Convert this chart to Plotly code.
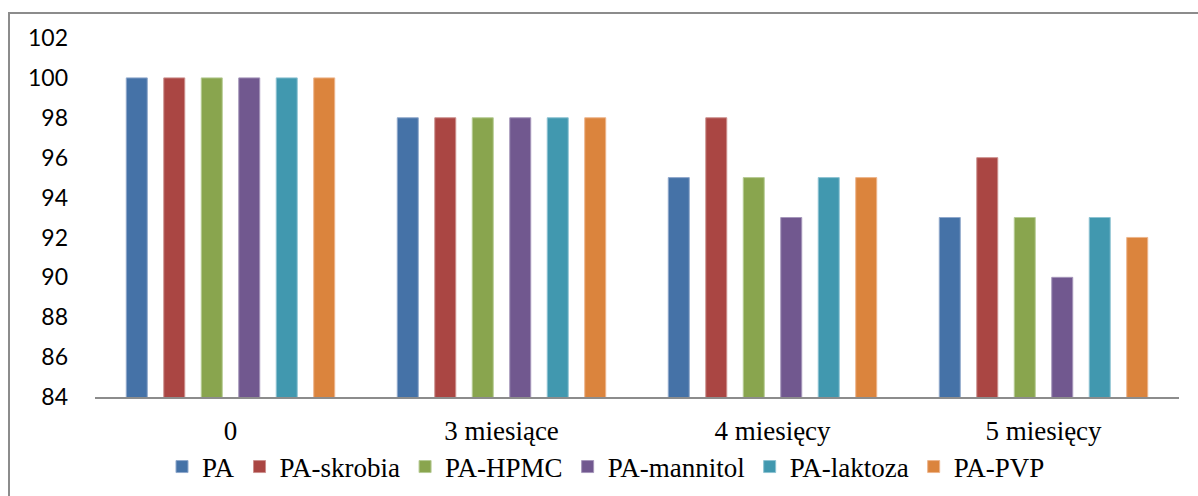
import plotly.graph_objects as go

categories = ["0", "3 miesiące", "4 miesięcy", "5 miesięcy"]
series_names = ["PA", "PA-skrobia", "PA-HPMC", "PA-mannitol", "PA-laktoza", "PA-PVP"]
pa = [100, 98, 95, 93]
pa_skrobia = [100, 98, 98, 96]
pa_hpmc = [100, 98, 95, 93]
pa_mannitol = [100, 98, 93, 90]
pa_laktoza = [100, 98, 95, 93]
pa_pvp = [100, 98, 95, 92]
y_ticks = [84, 86, 88, 90, 92, 94, 96, 98, 100, 102]

values = [pa, pa_skrobia, pa_hpmc, pa_mannitol, pa_laktoza, pa_pvp]
colors = ["#4572A7", "#AA4643", "#89A54E", "#71588F", "#4198AF", "#DB843D"]
edges = ["#8FA8CC", "#CC8F8D", "#B6CB94", "#A596BA", "#8DC3D2", "#EDB58C"]

W, H = 1198, 496
ml, mr, mt, mb = 95, 19, 38, 99
pw, ph = W - ml - mr, H - mt - mb
SERIF = "Liberation Serif, Times New Roman, DejaVu Serif, serif"

fig = go.Figure()
for name, vals, c, e in zip(series_names, values, colors, edges):
    fig.add_trace(go.Bar(
        x=categories, y=vals, name=name,
        marker=dict(color=c, line=dict(color=e, width=1)),
    ))

def px_x(p):
    return (p - ml) / pw

def px_y(p):
    return (H - mb - p) / ph

fig.add_shape(type="rect", xref="paper", yref="paper",
              x0=px_x(9), x1=px_x(1210), y0=px_y(510), y1=px_y(13),
              line=dict(color="#8C8C8C", width=2), fillcolor="rgba(0,0,0,0)")

fig.update_layout(
    width=W, height=H,
    margin=dict(l=ml, r=mr, t=mt, b=mb, autoexpand=False),
    paper_bgcolor="white", plot_bgcolor="white",
    barmode="group", bargap=0.17, bargroupgap=0.44,
    showlegend=True,
    legend=dict(orientation="h", x=px_x(606), xanchor="center",
                y=px_y(467), yanchor="middle",
                font=dict(family=SERIF, size=27, color="black"),
                itemwidth=30, tracegroupgap=0, bgcolor="rgba(0,0,0,0)"),
    xaxis=dict(showline=True, linecolor="#8C8C8C", linewidth=2,
               ticks="", showgrid=False,
               tickfont=dict(family=SERIF, size=27, color="black"),
               ticklabelstandoff=9),
    yaxis=dict(range=[84, 102], tickvals=y_ticks,
               ticktext=[str(t) for t in y_ticks],
               showgrid=False, zeroline=False, showline=False, ticks="",
               tickfont=dict(family="Lato", size=23, color="black"),
               ticklabelstandoff=26),
)

fig.write_html("out.html")
